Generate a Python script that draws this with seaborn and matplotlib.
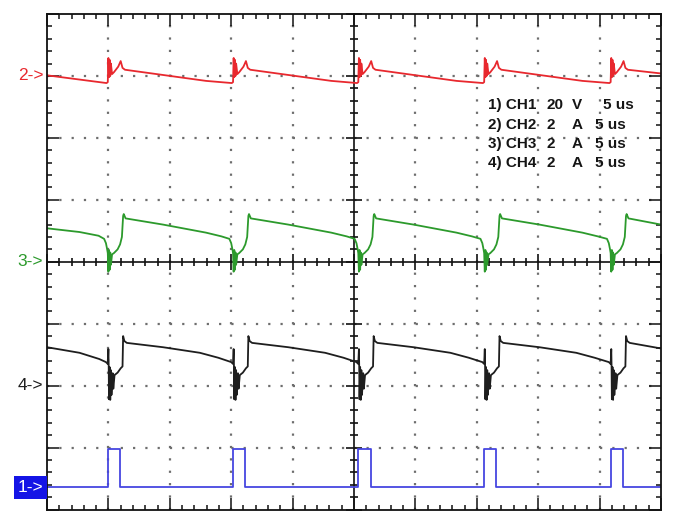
import numpy as np
import matplotlib
matplotlib.use("Agg")
import matplotlib.pyplot as plt
from matplotlib.ticker import MultipleLocator
import seaborn as sns

# ## waveform data (divisions: x 0..10, y 0..8) ================================
# CH1 gate pulse (blue)
t_ch1 = [0.00, 0.99, 0.99, 1.19, 1.19, 3.03, 3.03, 3.23, 3.23, 5.07, 5.07, 5.28, 5.28,
         7.12, 7.12, 7.32, 7.32, 9.18, 9.18, 9.38, 9.38, 10.0]
v_ch1 = [0.36, 0.36, 0.98, 0.98, 0.36, 0.36, 0.98, 0.98, 0.36, 0.36, 0.98, 0.98, 0.36,
         0.36, 0.98, 0.98, 0.36, 0.36, 0.98, 0.98, 0.36, 0.36]

# CH2 current (red)
t_ch2 = [0.00,
         0.97, 0.99, 1.00, 1.01, 1.02, 1.03, 1.04, 1.06, 1.09, 1.16, 1.20, 1.23, 1.27, 2.59,
         3.01, 3.03, 3.04, 3.05, 3.06, 3.07, 3.08, 3.10, 3.13, 3.20, 3.24, 3.27, 3.31, 4.63,
         5.05, 5.07, 5.08, 5.09, 5.10, 5.11, 5.12, 5.14, 5.17, 5.24, 5.28, 5.31, 5.35, 6.67,
         7.10, 7.12, 7.13, 7.14, 7.15, 7.16, 7.17, 7.19, 7.22, 7.29, 7.33, 7.36, 7.40, 8.72,
         9.16, 9.18, 9.19, 9.20, 9.21, 9.22, 9.23, 9.25, 9.28, 9.35, 9.39, 9.42, 9.46, 10.0]
v_ch2 = [7.01,
         6.885, 6.90, 7.29, 6.98, 7.26, 7.00, 7.20, 7.03, 7.06, 7.15, 7.24, 7.13, 7.10, 6.92,
         6.885, 6.90, 7.29, 6.98, 7.26, 7.00, 7.20, 7.03, 7.06, 7.15, 7.24, 7.13, 7.10, 6.92,
         6.885, 6.90, 7.29, 6.98, 7.26, 7.00, 7.20, 7.03, 7.06, 7.15, 7.24, 7.13, 7.10, 6.92,
         6.885, 6.90, 7.29, 6.98, 7.26, 7.00, 7.20, 7.03, 7.06, 7.15, 7.24, 7.13, 7.10, 6.92,
         6.885, 6.90, 7.29, 6.98, 7.26, 7.00, 7.20, 7.03, 7.06, 7.15, 7.24, 7.13, 7.10, 7.04]

# CH3 current (green)
t_ch3 = [0.00, 0.53, 0.84,
         0.93, 0.96, 0.98, 0.99, 1.00, 1.01, 1.02, 1.03, 1.04, 1.06, 1.09, 1.15, 1.19, 1.22, 1.24, 1.25, 1.28, 1.89, 2.59, 2.84,
         2.97, 3.00, 3.02, 3.03, 3.04, 3.05, 3.06, 3.07, 3.08, 3.10, 3.13, 3.19, 3.23, 3.26, 3.28, 3.29, 3.32, 3.93, 4.63, 4.88,
         5.01, 5.04, 5.06, 5.07, 5.08, 5.09, 5.10, 5.11, 5.12, 5.14, 5.17, 5.23, 5.27, 5.30, 5.32, 5.33, 5.36, 5.97, 6.67, 6.92,
         7.06, 7.09, 7.11, 7.12, 7.13, 7.14, 7.15, 7.16, 7.17, 7.19, 7.22, 7.28, 7.32, 7.35, 7.37, 7.38, 7.41, 8.02, 8.72, 8.97,
         9.12, 9.15, 9.17, 9.18, 9.19, 9.20, 9.21, 9.22, 9.23, 9.25, 9.28, 9.34, 9.38, 9.41, 9.43, 9.44, 9.47, 10.0]
v_ch3 = [4.54, 4.48, 4.42,
         4.37, 4.30, 4.20, 4.14, 3.84, 4.19, 3.87, 4.15, 3.95, 4.12, 4.14, 4.20, 4.28, 4.40, 4.74, 4.77, 4.70, 4.60, 4.47, 4.41,
         4.37, 4.30, 4.20, 4.14, 3.84, 4.19, 3.87, 4.15, 3.95, 4.12, 4.14, 4.20, 4.28, 4.40, 4.74, 4.77, 4.70, 4.60, 4.47, 4.41,
         4.37, 4.30, 4.20, 4.14, 3.84, 4.19, 3.87, 4.15, 3.95, 4.12, 4.14, 4.20, 4.28, 4.40, 4.74, 4.77, 4.70, 4.60, 4.47, 4.41,
         4.37, 4.30, 4.20, 4.14, 3.84, 4.19, 3.87, 4.15, 3.95, 4.12, 4.14, 4.20, 4.28, 4.40, 4.74, 4.77, 4.70, 4.60, 4.47, 4.41,
         4.37, 4.30, 4.20, 4.14, 3.84, 4.19, 3.87, 4.15, 3.95, 4.12, 4.14, 4.20, 4.28, 4.40, 4.74, 4.77, 4.70, 4.60]

# CH4 current (black)
t_ch4 = [0.00, 0.53, 0.85,
         0.96, 0.99, 1.00, 1.005, 1.01, 1.02, 1.03, 1.04, 1.05, 1.07, 1.08, 1.10, 1.15, 1.20, 1.23, 1.24, 1.26, 1.30, 1.89, 2.49, 2.79,
         3.00, 3.03, 3.04, 3.045, 3.05, 3.06, 3.07, 3.08, 3.09, 3.11, 3.12, 3.14, 3.19, 3.24, 3.27, 3.28, 3.30, 3.34, 3.93, 4.53, 4.83,
         5.04, 5.07, 5.08, 5.085, 5.09, 5.10, 5.11, 5.12, 5.13, 5.15, 5.16, 5.18, 5.23, 5.28, 5.31, 5.32, 5.34, 5.38, 5.97, 6.57, 6.87,
         7.09, 7.12, 7.13, 7.135, 7.14, 7.15, 7.16, 7.17, 7.18, 7.20, 7.21, 7.23, 7.28, 7.33, 7.36, 7.37, 7.39, 7.43, 8.02, 8.62, 8.92,
         9.15, 9.18, 9.19, 9.195, 9.20, 9.21, 9.22, 9.23, 9.24, 9.26, 9.27, 9.29, 9.34, 9.39, 9.42, 9.43, 9.45, 9.49, 10.0]
v_ch4 = [2.62, 2.53, 2.43,
         2.38, 2.35, 2.59, 2.30, 1.78, 2.30, 1.77, 2.25, 1.85, 2.20, 1.95, 2.17, 2.21, 2.28, 2.31, 2.80, 2.72, 2.69, 2.62, 2.53, 2.45,
         2.38, 2.35, 2.59, 2.30, 1.78, 2.30, 1.77, 2.25, 1.85, 2.20, 1.95, 2.17, 2.21, 2.28, 2.31, 2.80, 2.72, 2.69, 2.62, 2.53, 2.45,
         2.38, 2.35, 2.59, 2.30, 1.78, 2.30, 1.77, 2.25, 1.85, 2.20, 1.95, 2.17, 2.21, 2.28, 2.31, 2.80, 2.72, 2.69, 2.62, 2.53, 2.45,
         2.38, 2.35, 2.59, 2.30, 1.78, 2.30, 1.77, 2.25, 1.85, 2.20, 1.95, 2.17, 2.21, 2.28, 2.31, 2.80, 2.72, 2.69, 2.62, 2.53, 2.45,
         2.38, 2.35, 2.59, 2.30, 1.78, 2.30, 1.77, 2.25, 1.85, 2.20, 1.95, 2.17, 2.21, 2.28, 2.31, 2.80, 2.72, 2.69, 2.60]

# channel markers / settings text
marker_labels = ['1->', '2->', '3->', '4->']
marker_levels = [0.36, 7.0, 4.0, 2.0]
setting_rows = [['1) CH1', '20', 'V', '5 us'],
                ['2) CH2', '2', 'A', '5 us'],
                ['3) CH3', '2', 'A', '5 us'],
                ['4) CH4', '2', 'A', '5 us']]

c_red, c_green, c_black, c_blue = '#e8282e', '#2c9a2c', '#1e1e1e', '#4646e0'

# Figure ===========================================================================
sns.set_style('white')
plt.rcParams['font.family'] = ['Liberation Sans', 'DejaVu Sans']

fig = plt.figure(figsize=(6.73, 5.12), dpi=100)
rect = [47 / 673, 2.5 / 512, 614 / 673, 495.5 / 512]

# background axes: dotted graticule + centre cross with ticks
bg = fig.add_axes(rect)
bg.set_xlim(0, 10)
bg.set_ylim(0, 8)
for i in range(1, 10):
    if i != 5:
        bg.axvline(i, color='#6e6e6e', lw=1.6, ls=(0, (1, 4.57)), zorder=0)
for j in range(1, 8):
    if j != 4:
        bg.axhline(j, color='#6e6e6e', lw=1.6, ls=(0, (1, 4.53)), zorder=0)
for s in ['top', 'right']:
    bg.spines[s].set_visible(False)
bg.spines['left'].set_position(('data', 5))
bg.spines['bottom'].set_position(('data', 4))
for s in ['left', 'bottom']:
    bg.spines[s].set_linewidth(1.2)
    bg.spines[s].set_color('#111111')
bg.xaxis.set_major_locator(MultipleLocator(1))
bg.xaxis.set_minor_locator(MultipleLocator(0.2))
bg.yaxis.set_major_locator(MultipleLocator(1))
bg.yaxis.set_minor_locator(MultipleLocator(0.2))
bg.tick_params(which='both', direction='inout', bottom=True, left=True,
               labelbottom=False, labelleft=False, color='#111111', width=1.2)
bg.tick_params(which='major', length=12)
bg.tick_params(which='minor', length=6)

# main axes: traces + frame
ax = fig.add_axes(rect, facecolor='none')
sns.lineplot(x=t_ch2, y=v_ch2, color=c_red, lw=1.3, sort=False, estimator=None, ax=ax)
sns.lineplot(x=t_ch3, y=v_ch3, color=c_green, lw=1.3, sort=False, estimator=None, ax=ax)
sns.lineplot(x=t_ch4, y=v_ch4, color=c_black, lw=1.3, sort=False, estimator=None, ax=ax)
sns.lineplot(x=t_ch1, y=v_ch1, color=c_blue, lw=1.3, sort=False, estimator=None, ax=ax)
ax.set_xlim(0, 10)
ax.set_ylim(0, 8)
ax.set_xlabel('')
ax.set_ylabel('')
for s in ax.spines.values():
    s.set_visible(True)
    s.set_linewidth(1.3)
    s.set_color('#111111')
ax.xaxis.set_major_locator(MultipleLocator(1))
ax.xaxis.set_minor_locator(MultipleLocator(0.2))
ax.yaxis.set_major_locator(MultipleLocator(1))
ax.yaxis.set_minor_locator(MultipleLocator(0.2))
ax.tick_params(which='both', direction='in', top=True, right=True, bottom=True, left=True,
               labelbottom=False, labelleft=False, color='#111111', width=1.1)
ax.tick_params(which='major', length=8.5)
ax.tick_params(which='minor', length=3.6)

# channel markers on the left
marker_colors = ['white', c_red, c_green, c_black]
for lab, lev, col in zip(marker_labels, marker_levels, marker_colors):
    if lab == '1->':
        ax.text(-0.006, lev, lab, transform=ax.get_yaxis_transform(), ha='right', va='center',
                fontsize=12.5, color=col, clip_on=False,
                bbox=dict(boxstyle='square,pad=0.22', fc='#1414e6', ec='none'))
    else:
        ax.text(-0.006, lev, lab, transform=ax.get_yaxis_transform(), ha='right', va='center',
                fontsize=12.5, color=col, clip_on=False)

# settings block
col_x = [7.18, 8.14, 8.55, 8.93]
row_y = [6.53, 6.21, 5.90, 5.59]
for row, y in zip(setting_rows, row_y):
    for k, (txt, x) in enumerate(zip(row, col_x)):
        xx = x
        if k == 3 and row[1] == '20':
            xx = 9.06
        ax.text(xx, y, txt, ha='left', va='center', fontsize=11, fontweight='bold',
                color='#151515')

fig.savefig('out.png', dpi=100)
